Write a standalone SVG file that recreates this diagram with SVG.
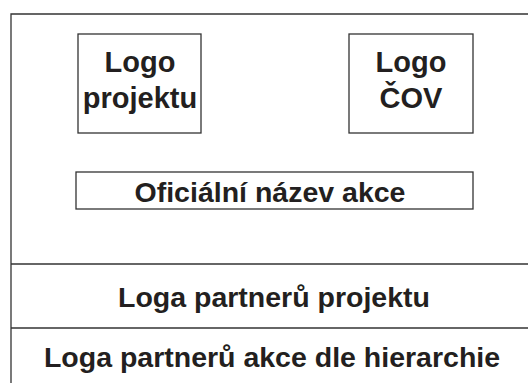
<svg xmlns="http://www.w3.org/2000/svg" width="528" height="383" viewBox="0 0 528 383">
<style>
.ln{fill:none;stroke:#333;stroke-width:1.3}
.t{font-family:"Liberation Sans",Arial,sans-serif;font-weight:bold;font-size:29px;fill:#231f20;text-anchor:middle}
.tb{font-size:28.5px}
</style>
<rect width="528" height="383" fill="#fff"/>
<g id="frame">
<path class="ln" d="M11,383 V14 H528"/>
<line class="ln" x1="11" y1="264" x2="528" y2="264"/>
<line class="ln" x1="11" y1="328" x2="528" y2="328"/>
</g>
<g id="logo-projektu">
<rect class="ln" x="78" y="34" width="123" height="99"/>
<text class="t" x="140" y="72">Logo</text>
<text class="t" x="140" y="108">projektu</text>
</g>
<g id="logo-cov">
<rect class="ln" x="349" y="34" width="124" height="99"/>
<text class="t" x="411" y="72">Logo</text>
<text class="t" x="411" y="108">ČOV</text>
</g>
<g id="nazev">
<rect class="ln" x="76" y="172" width="397" height="37"/>
<text class="t tb" x="270" y="202">Oficiální název akce</text>
</g>
<g id="partneri-projektu">
<text class="t tb" x="274" y="307">Loga partnerů projektu</text>
</g>
<g id="partneri-akce">
<text class="t tb" x="272" y="367">Loga partnerů akce dle hierarchie</text>
</g>
<g id="connectors"></g>
</svg>
